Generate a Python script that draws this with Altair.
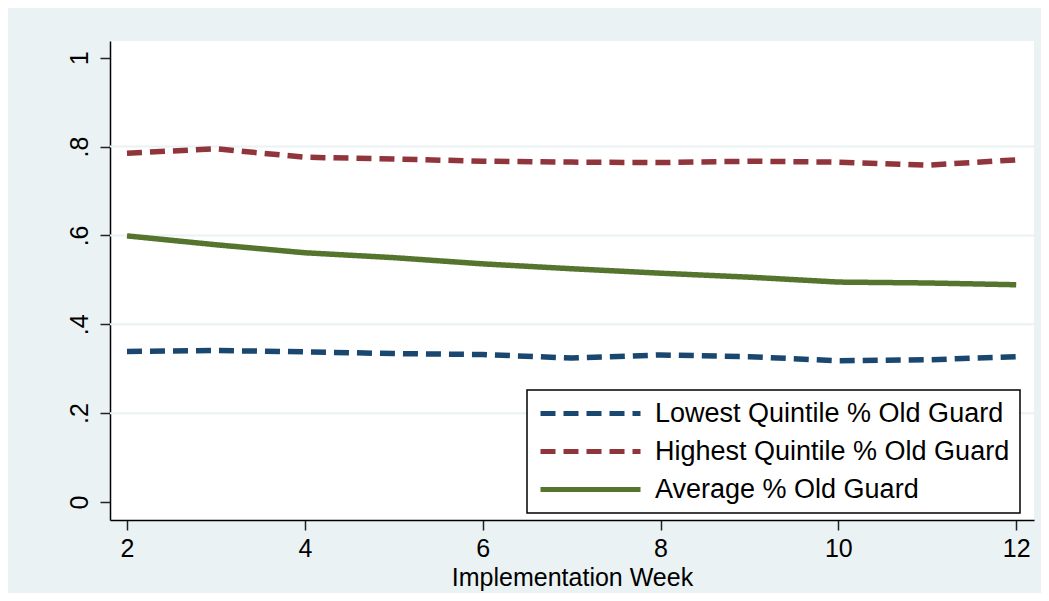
import altair as alt
import pandas as pd

weeks = [2, 3, 4, 5, 6, 7, 8, 9, 10, 11, 12]
lowest = [0.339, 0.341, 0.338, 0.334, 0.332, 0.324, 0.331, 0.327, 0.318, 0.320, 0.327]
highest = [0.785, 0.795, 0.776, 0.772, 0.767, 0.765, 0.764, 0.767, 0.765, 0.758, 0.770]
average = [0.599, 0.579, 0.561, 0.550, 0.536, 0.525, 0.515, 0.506, 0.495, 0.493, 0.489]

series_names = ["Lowest Quintile % Old Guard", "Highest Quintile % Old Guard", "Average % Old Guard"]
series_colors = ["#1A476F", "#90353B", "#55752F"]
x_ticks = [2, 4, 6, 8, 10, 12]
y_ticks = [0, 0.2, 0.4, 0.6, 0.8, 1]
grid_values = [0.2, 0.4, 0.6, 0.8]

rows = []
for name, vals in zip(series_names, [lowest, highest, average]):
    for w, v in zip(weeks, vals):
        rows.append({"week": w, "value": v, "series": name})
df = pd.DataFrame(rows)
grid_df = pd.DataFrame({"g": grid_values})

FONT = "Liberation Sans"
x_scale = alt.Scale(domain=[1.809, 12.2], nice=False, zero=False)
y_scale = alt.Scale(domain=[-0.0405, 1.0376], nice=False, zero=False)

y_axis = alt.Axis(values=y_ticks, title=None, grid=False, tickSize=10,
                  labelAngle=270, labelAlign="center", labelBaseline="bottom",
                  labelPadding=8, labelFontSize=25,
                  labelExpr="datum.value == 0 ? '0' : datum.value == 1 ? '1' : replace(format(datum.value, '.1f'), '0.', '.')")

grid = alt.Chart(grid_df).mark_rule(color="#EAF2F3", strokeWidth=2).encode(
    y=alt.Y("g:Q", scale=y_scale, axis=y_axis)
)

lines = alt.Chart(df).mark_line(strokeWidth=5.5, strokeCap="butt").encode(
    x=alt.X("week:Q", scale=x_scale,
            axis=alt.Axis(values=x_ticks, title="Implementation Week", grid=False,
                          tickSize=10, labelPadding=6, titlePadding=4,
                          labelFontSize=25, titleFontSize=25, titleFontWeight="normal")),
    y=alt.Y("value:Q", scale=y_scale, axis=y_axis),
    color=alt.Color("series:N", scale=alt.Scale(domain=series_names, range=series_colors),
                    legend=alt.Legend(title=None)),
    strokeDash=alt.StrokeDash("series:N",
                              scale=alt.Scale(domain=series_names, range=[[15, 8], [15, 8], [1, 0]]),
                              legend=alt.Legend(title=None)),
    order=alt.Order("week:Q"),
)

chart = alt.layer(grid, lines).properties(
    width=924, height=479,
    autosize=alt.AutoSizeParams(type="none"),
    padding={"left": 102, "top": 33, "right": 7, "bottom": 73},
    background="#EAF2F3",
).configure_view(
    fill="white", stroke=None, strokeWidth=0
).configure_axis(
    labelFont=FONT, titleFont=FONT, labelColor="black", titleColor="black",
    domainColor="black", domainWidth=1.5, tickColor="#222222", tickWidth=1.5,
).configure_legend(
    orient="none", legendX=417, legendY=349,
    fillColor="white", strokeColor="black", strokeWidth=1.5,
    padding=10, symbolType="M-1,0H9", symbolSize=400, symbolStrokeWidth=5,
    labelFont=FONT, labelFontSize=27, labelColor="black", labelOffset=91,
    rowPadding=10, symbolOffset=0, labelLimit=0,
)

chart.save("out.html", embed_options={"renderer": "svg", "actions": False})
